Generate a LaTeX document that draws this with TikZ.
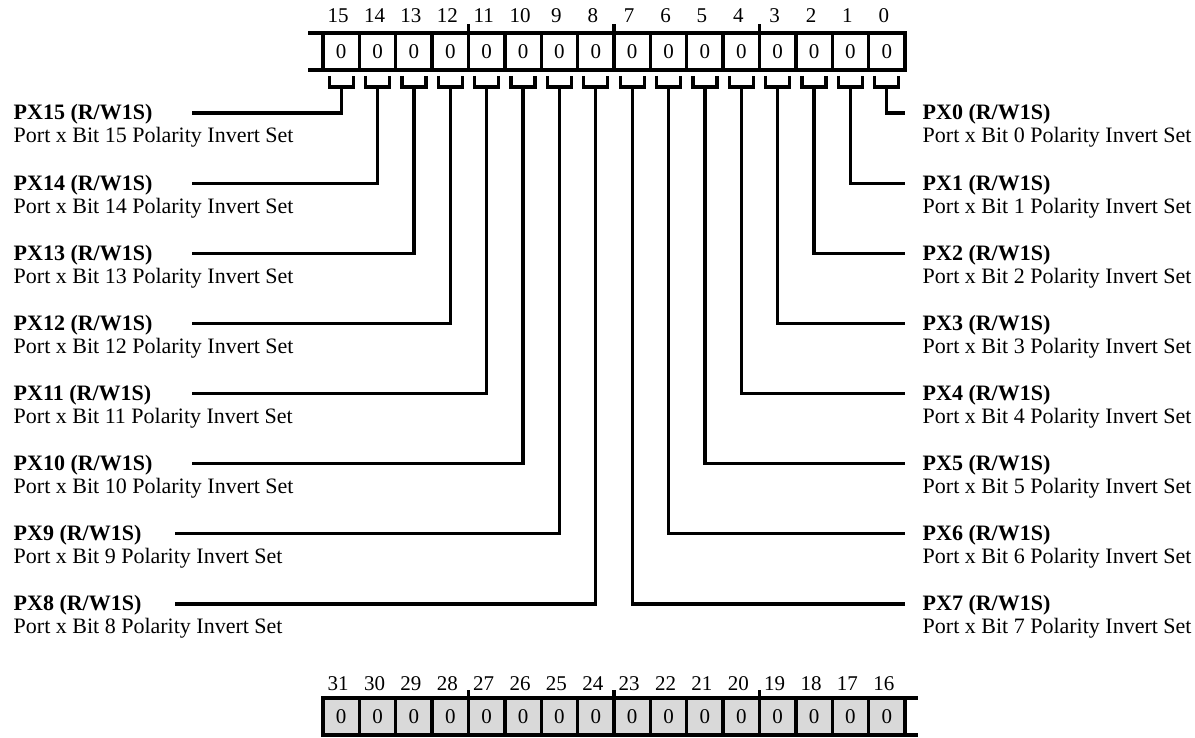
\documentclass[tikz,border=0pt]{standalone}
\usepackage{fontspec}
\setmainfont{Liberation Serif}
\begin{document}
\begin{tikzpicture}[x=1pt,y=-1pt,line width=3.4pt,line join=miter,
  cell/.style={draw,line width=3.4pt,minimum width=36.375pt,minimum height=37pt,inner sep=0pt,outer sep=0pt,font=\fontsize{21}{24}\selectfont},
  gcell/.style={cell,fill=gray!30},
  num/.style={anchor=base,inner sep=0pt,font=\fontsize{21}{24}\selectfont},
  lbl/.style={anchor=base west,inner sep=0pt,font=\fontsize{22}{26}\selectfont\bfseries},
  dsc/.style={anchor=base west,inner sep=0pt,font=\fontsize{22}{26}\selectfont},
  conn/.style={line width=3.2pt},
  brk/.style={line width=3.2pt}]
\useasboundingbox (0,0) rectangle (1195,738);
% top register (bits 15..0)
\draw (308,33) -- (323,33);
\draw (308,70) -- (323,70);
\foreach \b in {0,...,15} {
  \pgfmathsetmacro\cx{341.2+(15-\b)*36.375}
  \node[cell] (c\b) at (\cx,51.5) {0};
  \node[num] (n\b) at (\cx-3,23) {\b};
}
\draw (c12.north east) -- ++(0,-9);
\draw (c8.north east) -- ++(0,-9);
\draw (c4.north east) -- ++(0,-9);
% bottom register (bits 31..16)
\foreach \b in {16,...,31} {
  \pgfmathsetmacro\cx{341.2+(31-\b)*36.375}
  \node[gcell] (c\b) at (\cx,716.5) {0};
  \node[num] (n\b) at (\cx-3,690) {\b};
}
\draw (c16.north east) -- ++(13,0);
\draw (c16.south east) -- ++(13,0);
\draw (c28.north east) -- ++(0,-8);
\draw (c24.north east) -- ++(0,-8);
\draw (c20.north east) -- ++(0,-8);
% left fields (15..8)
\foreach \b in {8,...,15} {
  \pgfmathsetmacro\cx{341.2+(15-\b)*36.375}
  \pgfmathsetmacro\ry{113+(15-\b)*70.14}
  \pgfmathsetmacro\sx{\b>9 ? 192 : 175}
  \draw[brk] (\cx-12,76) -- (\cx-12,87) -- (\cx+12,87) -- (\cx+12,76);
  \coordinate (s\b) at (\cx,87);
  \node[lbl] (L\b) at (12,\ry+7) {PX\b{} (R/W1S)};
  \node[dsc] (D\b) at (12,\ry+30) {Port x Bit \b{} Polarity Invert Set};
  \coordinate (e\b) at (\sx,\ry);
  \draw[conn] (s\b) |- (e\b);
}
% right fields (0..7)
\foreach \b in {0,...,7} {
  \pgfmathsetmacro\cx{341.2+(15-\b)*36.375}
  \pgfmathsetmacro\ry{113+\b*70.14}
  \draw[brk] (\cx-12,76) -- (\cx-12,87) -- (\cx+12,87) -- (\cx+12,76);
  \coordinate (s\b) at (\cx,87);
  \node[lbl] (L\b) at (921,\ry+7) {PX\b{} (R/W1S)};
  \node[dsc] (D\b) at (921,\ry+30) {Port x Bit \b{} Polarity Invert Set};
  \coordinate (e\b) at (905,\ry);
  \draw[conn] (s\b) |- (e\b);
}
\end{tikzpicture}
\end{document}
